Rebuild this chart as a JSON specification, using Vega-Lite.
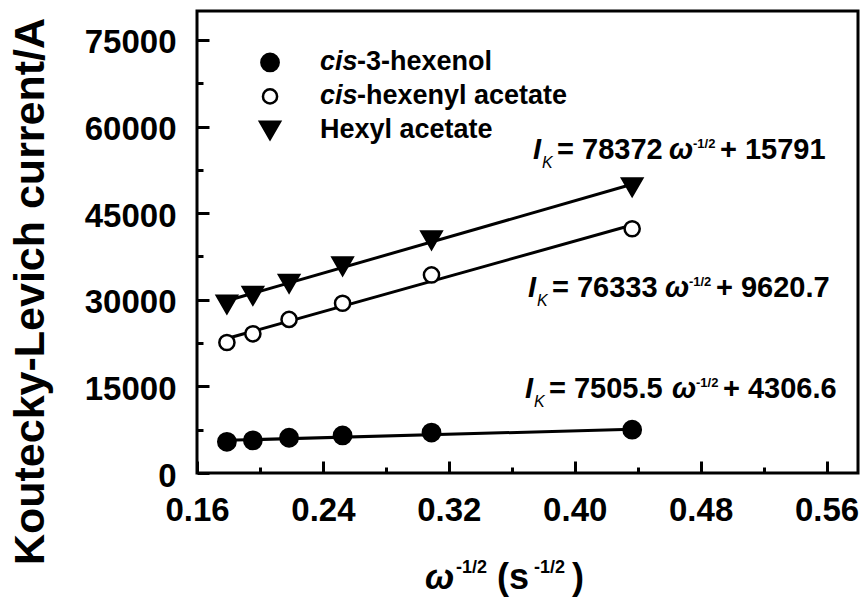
{
  "$schema": "https://vega.github.io/schema/vega-lite/v6.json",
  "width": 661,
  "height": 462,
  "autosize": "none",
  "padding": {"left": 197, "top": 11, "right": 7, "bottom": 125},
  "background": "white",
  "config": {
    "view": {"stroke": "black", "strokeWidth": 3},
    "font": "Liberation Sans",
    "text": {"font": "Liberation Sans", "color": "black"}
  },
  "resolve": {"axis": {"x": "independent", "y": "independent"}},
  "datasets": {
    "pts": [
      {"series": "cis-3-hexenol", "x": 0.179, "y": 5400},
      {"series": "cis-3-hexenol", "x": 0.1955, "y": 5650},
      {"series": "cis-3-hexenol", "x": 0.2185, "y": 6100},
      {"series": "cis-3-hexenol", "x": 0.2525, "y": 6500},
      {"series": "cis-3-hexenol", "x": 0.309, "y": 7000},
      {"series": "cis-3-hexenol", "x": 0.4365, "y": 7500},
      {"series": "cis-hexenyl acetate", "x": 0.179, "y": 22600},
      {"series": "cis-hexenyl acetate", "x": 0.1955, "y": 24100},
      {"series": "cis-hexenyl acetate", "x": 0.2185, "y": 26600},
      {"series": "cis-hexenyl acetate", "x": 0.2525, "y": 29400},
      {"series": "cis-hexenyl acetate", "x": 0.309, "y": 34300},
      {"series": "cis-hexenyl acetate", "x": 0.4365, "y": 42300},
      {"series": "Hexyl acetate", "x": 0.179, "y": 29200},
      {"series": "Hexyl acetate", "x": 0.1955, "y": 30700},
      {"series": "Hexyl acetate", "x": 0.2185, "y": 32800},
      {"series": "Hexyl acetate", "x": 0.2525, "y": 35800},
      {"series": "Hexyl acetate", "x": 0.309, "y": 40300},
      {"series": "Hexyl acetate", "x": 0.4365, "y": 49500}
    ],
    "fits": [
      {"series": "cis-3-hexenol", "x": 0.179, "y": 5650},
      {"series": "cis-3-hexenol", "x": 0.4365, "y": 7583},
      {"series": "cis-hexenyl acetate", "x": 0.179, "y": 23284},
      {"series": "cis-hexenyl acetate", "x": 0.4365, "y": 42940},
      {"series": "Hexyl acetate", "x": 0.179, "y": 29820},
      {"series": "Hexyl acetate", "x": 0.4365, "y": 50001}
    ],
    "legend": [
      {"series": "cis-3-hexenol", "it": "cis", "rest": "-3-hexenol", "ly": 71100},
      {"series": "cis-hexenyl acetate", "it": "cis", "rest": "-hexenyl acetate", "ly": 65215},
      {"series": "Hexyl acetate", "it": "", "rest": "Hexyl acetate", "ly": 59325}
    ],
    "eqs": [
      {"coef": "= 78372", "const": "+ 15791", "x0": 0.3735, "x1": 0.4599, "yb": 54319},
      {"coef": "= 76333", "const": "+ 9620.7", "x0": 0.3703, "x1": 0.4573, "yb": 30416},
      {"coef": "= 7505.5", "const": "+ 4306.6", "x0": 0.3684, "x1": 0.4618, "yb": 13025}
    ]
  },
  "layer": [
    {
      "data": {"name": "fits"},
      "mark": {"type": "line", "color": "black", "strokeWidth": 3},
      "encoding": {
        "x": {
          "field": "x", "type": "quantitative",
          "scale": {"domain": [0.16, 0.58], "nice": false, "zero": false},
          "axis": {
            "orient": "bottom",
            "title": null,
            "values": [0.16, 0.24, 0.32, 0.4, 0.48, 0.56],
            "format": ".2f",
            "tickSize": -12,
            "tickWidth": 3, "tickColor": "black",
            "domain": false, "grid": false,
            "labelFont": "Liberation Sans", "labelFontSize": 33, "labelFontWeight": "bold", "labelColor": "black",
            "labelPadding": 33, "labelFlush": false, "labelOverlap": false, "labelBound": false
          }
        },
        "y": {
          "field": "y", "type": "quantitative",
          "scale": {"domain": [0, 80000], "nice": false, "zero": true},
          "axis": {
            "orient": "left",
            "title": "Koutecky-Levich current/A",
            "titleFont": "Liberation Sans", "titleFontSize": 43, "titleFontWeight": "bold", "titleColor": "black",
            "titleX": -167, "titleY": 280, "titleAngle": 270, "titleAlign": "center", "titleBaseline": "middle",
            "values": [0, 15000, 30000, 45000, 60000, 75000],
            "format": "d",
            "tickSize": -12,
            "tickWidth": 3, "tickColor": "black",
            "domain": false, "grid": false,
            "labelFont": "Liberation Sans", "labelFontSize": 33, "labelFontWeight": "bold", "labelColor": "black",
            "labelPadding": 33, "labelOffset": 3, "labelFlush": false, "labelOverlap": false, "labelBound": false
          }
        },
        "detail": {"field": "series"}
      }
    },
    {
      "data": {"name": "pts"},
      "mark": {"type": "point", "filled": true, "stroke": "black", "strokeWidth": 2.5, "opacity": 1},
      "encoding": {
        "x": {"field": "x", "type": "quantitative",
          "axis": {"orient": "bottom", "title": null, "values": [0.2, 0.28, 0.36, 0.44, 0.52], "labels": false, "tickSize": -6, "tickWidth": 3, "tickColor": "black", "domain": false, "grid": false}},
        "y": {"field": "y", "type": "quantitative",
          "axis": {"orient": "left", "title": null, "values": [7500, 22500, 37500, 52500, 67500], "labels": false, "tickSize": -6, "tickWidth": 3, "tickColor": "black", "domain": false, "grid": false}},
        "shape": {"field": "series", "type": "nominal", "legend": null,
          "scale": {"domain": ["cis-3-hexenol", "cis-hexenyl acetate", "Hexyl acetate"], "range": ["circle", "circle", "triangle-down"]}},
        "fill": {"field": "series", "type": "nominal", "legend": null,
          "scale": {"domain": ["cis-3-hexenol", "cis-hexenyl acetate", "Hexyl acetate"], "range": ["black", "white", "black"]}},
        "size": {"condition": [
            {"test": "datum.series == 'Hexyl acetate'", "value": 400},
            {"test": "datum.series == 'cis-hexenyl acetate'", "value": 230}
          ], "value": 300}
      }
    },
    {
      "data": {"name": "legend"},
      "mark": {"type": "point", "filled": true, "stroke": "black", "strokeWidth": 2.5, "opacity": 1},
      "encoding": {
        "x": {"datum": 0.2064, "type": "quantitative", "axis": null},
        "y": {"field": "ly", "type": "quantitative", "axis": null},
        "shape": {"field": "series", "type": "nominal", "legend": null},
        "fill": {"field": "series", "type": "nominal", "legend": null},
        "size": {"condition": [
            {"test": "datum.series == 'Hexyl acetate'", "value": 400},
            {"test": "datum.series == 'cis-hexenyl acetate'", "value": 200}
          ], "value": 300}
      }
    },
    {
      "data": {"name": "legend"},
      "transform": [{"filter": "datum.it != ''"}],
      "mark": {"type": "text", "align": "left", "baseline": "middle", "fontSize": 27, "fontWeight": "bold", "fontStyle": "italic"},
      "encoding": {
        "x": {"datum": 0.2381, "type": "quantitative", "axis": null},
        "y": {"field": "ly", "type": "quantitative", "axis": null},
        "text": {"field": "it"}
      }
    },
    {
      "data": {"name": "legend"},
      "transform": [{"filter": "datum.it != ''"}],
      "mark": {"type": "text", "align": "left", "baseline": "middle", "fontSize": 27, "fontWeight": "bold", "dx": 37},
      "encoding": {
        "x": {"datum": 0.2381, "type": "quantitative", "axis": null},
        "y": {"field": "ly", "type": "quantitative", "axis": null},
        "text": {"field": "rest"}
      }
    },
    {
      "data": {"name": "legend"},
      "transform": [{"filter": "datum.it == ''"}],
      "mark": {"type": "text", "align": "left", "baseline": "middle", "fontSize": 27, "fontWeight": "bold"},
      "encoding": {
        "x": {"datum": 0.2381, "type": "quantitative", "axis": null},
        "y": {"field": "ly", "type": "quantitative", "axis": null},
        "text": {"field": "rest"}
      }
    },
    {
      "data": {"name": "eqs"},
      "mark": {"type": "text", "align": "left", "baseline": "alphabetic", "fontSize": 29, "fontWeight": "bold", "fontStyle": "italic"},
      "encoding": {
        "x": {"field": "x0", "type": "quantitative", "axis": null},
        "y": {"field": "yb", "type": "quantitative", "axis": null},
        "text": {"value": "I"}
      }
    },
    {
      "data": {"name": "eqs"},
      "mark": {"type": "text", "align": "left", "baseline": "alphabetic", "fontSize": 16, "fontStyle": "italic", "dx": 9, "dy": 9},
      "encoding": {
        "x": {"field": "x0", "type": "quantitative", "axis": null},
        "y": {"field": "yb", "type": "quantitative", "axis": null},
        "text": {"value": "K"}
      }
    },
    {
      "data": {"name": "eqs"},
      "mark": {"type": "text", "align": "left", "baseline": "alphabetic", "fontSize": 29, "fontWeight": "bold", "dx": 24},
      "encoding": {
        "x": {"field": "x0", "type": "quantitative", "axis": null},
        "y": {"field": "yb", "type": "quantitative", "axis": null},
        "text": {"field": "coef"}
      }
    },
    {
      "data": {"name": "eqs"},
      "mark": {"type": "text", "align": "left", "baseline": "alphabetic", "fontSize": 29, "fontWeight": "bold", "fontStyle": "italic"},
      "encoding": {
        "x": {"field": "x1", "type": "quantitative", "axis": null},
        "y": {"field": "yb", "type": "quantitative", "axis": null},
        "text": {"value": "ω"}
      }
    },
    {
      "data": {"name": "eqs"},
      "mark": {"type": "text", "align": "left", "baseline": "alphabetic", "fontSize": 13, "fontWeight": "bold", "dx": 24, "dy": -11},
      "encoding": {
        "x": {"field": "x1", "type": "quantitative", "axis": null},
        "y": {"field": "yb", "type": "quantitative", "axis": null},
        "text": {"value": "-1/2"}
      }
    },
    {
      "data": {"name": "eqs"},
      "mark": {"type": "text", "align": "left", "baseline": "alphabetic", "fontSize": 29, "fontWeight": "bold", "dx": 51},
      "encoding": {
        "x": {"field": "x1", "type": "quantitative", "axis": null},
        "y": {"field": "yb", "type": "quantitative", "axis": null},
        "text": {"field": "const"}
      }
    },
    {
      "data": {"values": [{"t": "ω"}]},
      "mark": {"type": "text", "align": "left", "baseline": "alphabetic", "fontSize": 35, "fontWeight": "bold", "fontStyle": "italic"},
      "encoding": {
        "x": {"datum": 0.3049, "type": "quantitative", "axis": null},
        "y": {"datum": -20160, "type": "quantitative", "axis": null},
        "text": {"field": "t"}
      }
    },
    {
      "data": {"values": [{"t": "-1/2"}]},
      "mark": {"type": "text", "align": "left", "baseline": "alphabetic", "fontSize": 18, "fontWeight": "bold", "dx": 31, "dy": -16},
      "encoding": {
        "x": {"datum": 0.3049, "type": "quantitative", "axis": null},
        "y": {"datum": -20160, "type": "quantitative", "axis": null},
        "text": {"field": "t"}
      }
    },
    {
      "data": {"values": [{"t": "(s"}]},
      "mark": {"type": "text", "align": "left", "baseline": "alphabetic", "fontSize": 36, "fontWeight": "bold", "dx": 72},
      "encoding": {
        "x": {"datum": 0.3049, "type": "quantitative", "axis": null},
        "y": {"datum": -20160, "type": "quantitative", "axis": null},
        "text": {"field": "t"}
      }
    },
    {
      "data": {"values": [{"t": "-1/2"}]},
      "mark": {"type": "text", "align": "left", "baseline": "alphabetic", "fontSize": 18, "fontWeight": "bold", "dx": 109, "dy": -16},
      "encoding": {
        "x": {"datum": 0.3049, "type": "quantitative", "axis": null},
        "y": {"datum": -20160, "type": "quantitative", "axis": null},
        "text": {"field": "t"}
      }
    },
    {
      "data": {"values": [{"t": ")"}]},
      "mark": {"type": "text", "align": "left", "baseline": "alphabetic", "fontSize": 36, "fontWeight": "bold", "dx": 147},
      "encoding": {
        "x": {"datum": 0.3049, "type": "quantitative", "axis": null},
        "y": {"datum": -20160, "type": "quantitative", "axis": null},
        "text": {"field": "t"}
      }
    }
  ]
}
